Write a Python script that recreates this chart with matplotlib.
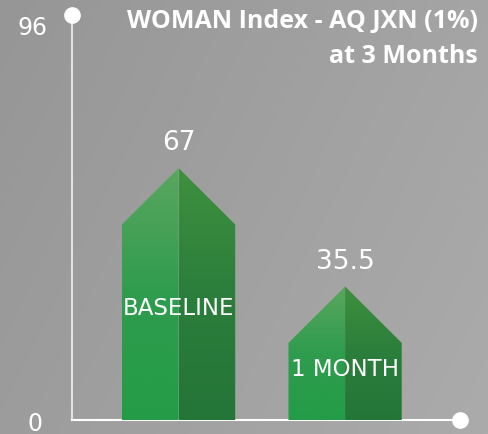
import matplotlib.pyplot as plt
import numpy as np
from matplotlib.colors import LinearSegmentedColormap
from matplotlib.patches import Polygon

# data
categories = ["BASELINE", "1 MONTH"]
values = [67, 35.5]
value_labels = ["67", "35.5"]
axis_labels = ["0", "96"]
title = "WOMAN Index - AQ JXN (1%)\nat 3 Months"

plt.rcParams["font.family"] = ["DejaVu Sans"]

fig = plt.figure(figsize=(4.88, 4.35), dpi=100)

# gray gradient background
bg = fig.add_axes([0, 0, 1, 1])
gx, gy = np.meshgrid(np.linspace(0, 1, 200), np.linspace(0, 1, 200))
bg_cmap = LinearSegmentedColormap.from_list("bg", ["#969696", "#ababab"])
bg.imshow(gx * 0.7 + gy * 0.3, cmap=bg_cmap, aspect="auto", extent=[0, 1, 0, 1])
bg.axis("off")

ax = fig.add_axes([72 / 488, 14 / 435, 388 / 488, 405 / 435])
ax.patch.set_alpha(0)
x_lo, x_hi = -0.64, 1.69
y_top = 107.7

left_cmap = LinearSegmentedColormap.from_list("l", ["#249c47", "#2f9c4e", "#5aa65f"])
right_cmap = LinearSegmentedColormap.from_list("r", ["#247538", "#2b7e3b", "#3f903f"])
grad = np.linspace(0, 1, 256).reshape(-1, 1)

hw = 0.34
roof = 15
for i, v in enumerate(values):
    halves = [
        ([(i - hw, 0), (i - hw, v - roof), (i, v), (i, 0)], left_cmap, i - hw, i),
        ([(i, 0), (i, v), (i + hw, v - roof), (i + hw, 0)], right_cmap, i, i + hw),
    ]
    for pts, cmap, xa, xb in halves:
        poly = Polygon(pts, closed=True, fc="none", ec="none")
        ax.add_patch(poly)
        im = ax.imshow(grad, cmap=cmap, origin="lower", aspect="auto",
                       extent=[xa, xb, 0, v], zorder=2)
        im.set_clip_path(poly)

# value labels and category labels
label_y = [29.8, 13.6]
for i, v in enumerate(values):
    ax.text(i, v + 6.8, value_labels[i], ha="center", va="center",
            color="white", fontsize=19)
    ax.text(i, label_y[i], categories[i], ha="center", va="center",
            color="white", fontsize=16.5, zorder=3)

# axis lines with dots
ax.plot([x_lo, x_lo], [0, y_top], color="#e2e2e2", lw=1.5, zorder=1, clip_on=False)
ax.plot([x_lo, x_hi], [0, 0], color="white", lw=1.5, zorder=1, clip_on=False)
ax.plot([x_lo], [y_top], "o", color="white", ms=11, clip_on=False, zorder=4)
ax.plot([x_hi], [0], "o", color="white", ms=11, clip_on=False, zorder=4)

ax.text(-0.88, y_top - 3.2, axis_labels[1], ha="center", va="center",
        color="white", fontsize=17)
ax.text(-0.86, -0.8, axis_labels[0], ha="center", va="center",
        color="white", fontsize=17)

ax.set_xlim(x_lo, x_hi)
ax.set_ylim(0, y_top)
ax.axis("off")

fig.text(478 / 488, 1 - 9 / 435, title, ha="right", va="top", color="white",
         fontsize=18, fontweight="bold", linespacing=1.55,
         family=["Open Sans", "DejaVu Sans"])

fig.savefig("out.png", dpi=100)
